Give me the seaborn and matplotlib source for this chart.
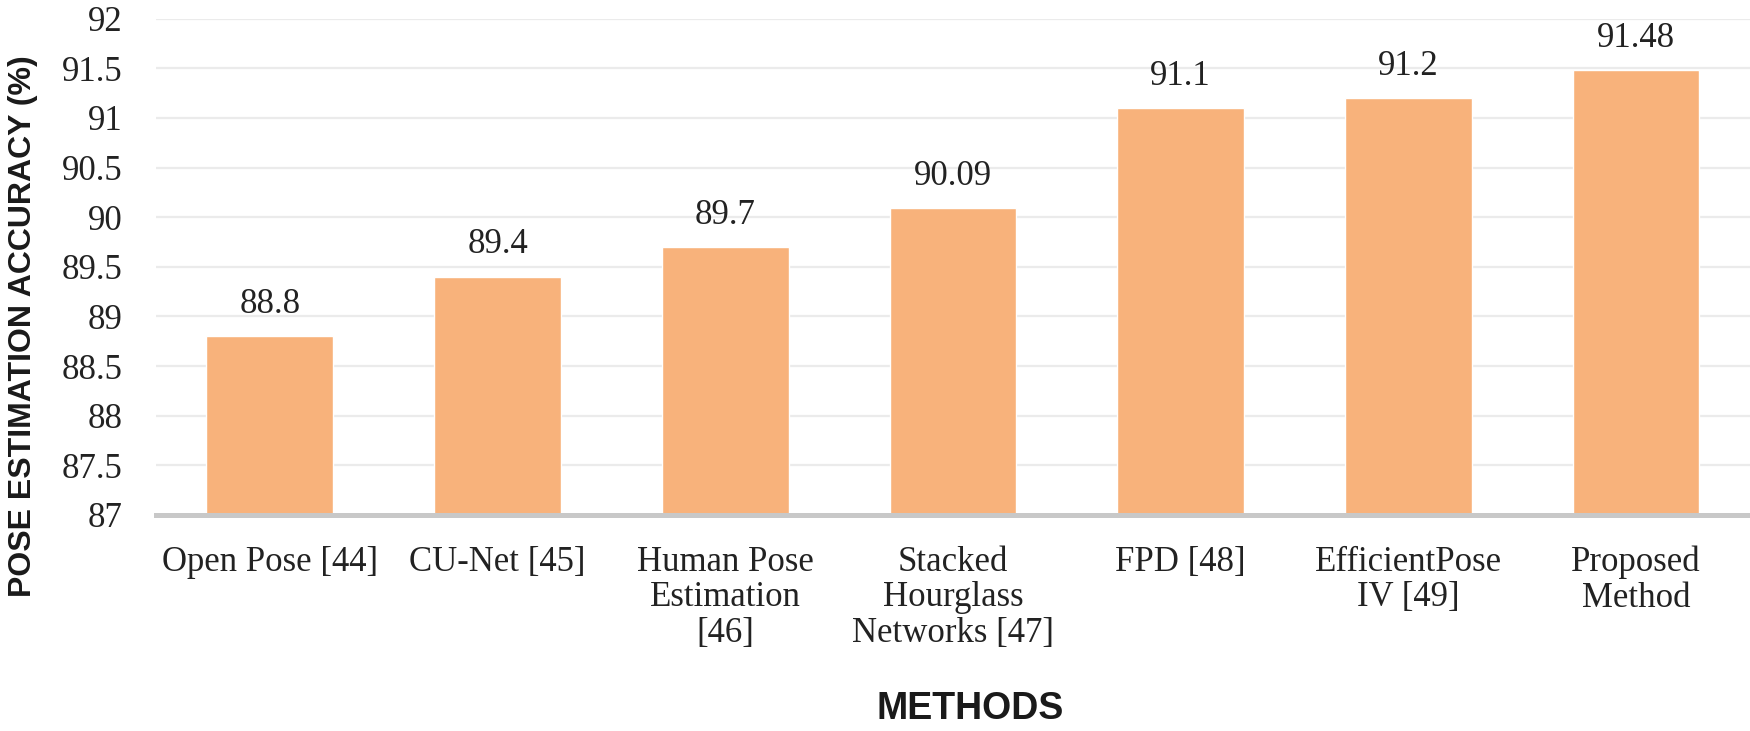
import matplotlib
matplotlib.use("Agg")
import matplotlib.pyplot as plt
import seaborn as sns
import pandas as pd

methods = ["Open Pose [44]", "CU-Net [45]", "Human Pose\nEstimation\n[46]",
           "Stacked\nHourglass\nNetworks [47]", "FPD [48]",
           "EfficientPose\nIV [49]", "Proposed\nMethod"]
accuracy = [88.8, 89.4, 89.7, 90.09, 91.1, 91.2, 91.48]
value_labels = ["88.8", "89.4", "89.7", "90.09", "91.1", "91.2", "91.48"]
y_ticks = [87, 87.5, 88, 88.5, 89, 89.5, 90, 90.5, 91, 91.5, 92]
y_tick_labels = ["87", "87.5", "88", "88.5", "89", "89.5", "90", "90.5", "91", "91.5", "92"]

sns.set_style("white")
serif = ["Liberation Serif", "DejaVu Serif"]
bold_sans = ["Liberation Sans", "DejaVu Sans"]

df = pd.DataFrame({"method": methods, "accuracy": accuracy})

fig = plt.figure(figsize=(17.5, 7.31), dpi=100)
ax = fig.add_axes([0.0891, 0.2955, 0.9109, 0.679])

sns.barplot(data=df, x="method", y="accuracy", color="#F8B27B", saturation=1,
            width=0.556, ax=ax, zorder=2)

ax.set_ylim(87, 92)
ax.set_yticks(y_ticks)
ax.set_yticklabels(y_tick_labels, family=serif, fontsize=25, color="#222222")
ax.set_xticks(range(len(methods)))
ax.set_xticklabels(methods, family=serif, fontsize=25, color="#222222",
                   linespacing=1.1, va="top")
ax.tick_params(axis="both", length=0)
ax.tick_params(axis="x", pad=22)
ax.tick_params(axis="y", pad=24)

# light horizontal grid, thick grey baseline
ax.yaxis.grid(True, color="#EBEBEB", linewidth=1.6, zorder=0)
ax.set_axisbelow(True)
for side in ["top", "right", "left"]:
    ax.spines[side].set_visible(False)
ax.spines["bottom"].set_color("#C8C8C8")
ax.spines["bottom"].set_linewidth(3.6)

ax.bar_label(ax.containers[0], labels=value_labels, padding=11,
             family=serif, fontsize=25, color="#222222")

ax.set_xlabel("METHODS", family=bold_sans, fontweight="bold", fontsize=27,
              color="#1a1a1a")
ax.set_ylabel("POSE ESTIMATION ACCURACY (%)", family=bold_sans,
              fontweight="bold", fontsize=23, color="#1a1a1a")
ax.xaxis.set_label_coords(0.511, -0.354)
ax.yaxis.set_label_coords(-0.074, 0.38)
ax.set_xlim(-0.5, len(methods) - 0.5)

fig.savefig("out.png", dpi=100)
plt.close(fig)
